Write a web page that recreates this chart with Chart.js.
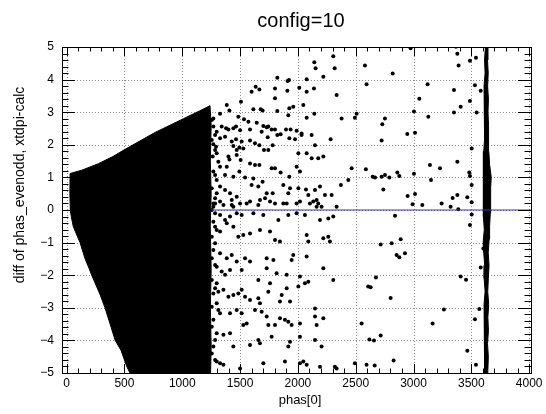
<!DOCTYPE html>
<html>
<head>
<meta charset="utf-8">
<script src="https://cdn.jsdelivr.net/npm/chart.js@4.4.1/dist/chart.umd.min.js"></script>
<style>
  html, body { margin: 0; padding: 0; background: #fff; }
  canvas { display: block; }
</style>
</head>
<body>
<canvas id="plot" width="546" height="414"></canvas>
<script>
// axis ticks
const xTicks = [0, 500, 1000, 1500, 2000, 2500, 3000, 3500, 4000];
const yTicks = [-5, -4, -3, -2, -1, 0, 1, 2, 3, 4, 5];

// outline of the solid black blob (x, y)
const blobOutline = [
  [30, 1.12], [130, 1.22], [274, 1.42], [400, 1.64], [505, 1.86], [765, 2.38], [1010, 2.8],
  [1150, 3.04], [1240, 3.2], [1250, 2.6], [1243, 1.5], [1250, 0.5], [1242, -0.5], [1250, -1.8],
  [1243, -3], [1250, -4.2], [1245, -5], [548, -5], [520, -4.8], [470, -4.3], [420, -4],
  [385, -3.6], [332, -3], [290, -2.6], [217, -2], [195, -1.8], [160, -1.5], [116, -1],
  [80, -0.7], [57, -0.5], [40, -0.2], [32, 0], [28, 0.5], [30, 1.12]
];

// outline of the vertical band near 3630
const bandOutline = [
  [3622, 5], [3614, 4.6], [3619, 4.2], [3610, 3.8], [3616, 3.4], [3611, 3.0], [3618, 2.6],
  [3613, 2.2], [3608, 1.8], [3604, 1.4], [3602, 1.0], [3606, 0.6], [3602, 0.2], [3608, -0.2],
  [3612, -0.6], [3602, -1.0], [3607, -1.3], [3616, -1.7], [3611, -2.1], [3619, -2.5],
  [3610, -2.9], [3616, -3.3], [3611, -3.7], [3618, -4.1], [3613, -4.5], [3618, -5],
  [3642, -5], [3647, -4.5], [3640, -4.1], [3648, -3.7], [3643, -3.3], [3650, -2.9],
  [3642, -2.5], [3647, -2.1], [3653, -1.7], [3646, -1.3], [3654, -0.9], [3658, -0.5],
  [3664, -0.1], [3668, 0.3], [3666, 0.7], [3672, 1.0], [3658, 1.4], [3651, 1.8], [3646, 2.2],
  [3652, 2.6], [3644, 3.0], [3648, 3.4], [3641, 3.8], [3646, 4.2], [3640, 4.6], [3644, 5]
];

// scattered entries hugging the right edge of the blob
const ptsEdge = [
  [1255, 2.76], [1269, 2.56], [1298, 2.40], [1255, 2.15], [1284, 1.84], [1263, 1.64], [1312, 1.48],
  [1269, 1.18], [1298, 0.92], [1255, 0.67], [1284, 0.20], [1269, 0.10], [1255, 0.0], [1269, -0.36],
  [1298, -0.61], [1255, -0.82], [1269, -1.23], [1255, -1.48], [1284, -1.69], [1255, -2.15],
  [1298, -2.25], [1269, -2.56], [1255, -2.97], [1312, -3.07], [1269, -3.37], [1255, -3.58],
  [1298, -3.78], [1269, -4.19], [1255, -4.40], [1284, -4.60]
];

// scattered entries, upper half (x 1250-2600)
const ptsUpper = [
  [2306, 4.72], [2142, 4.53], [2153, 4.35], [2318, 4.35], [2580, 4.43], [1822, 4.06], [1911, 3.96],
  [1923, 3.99], [2076, 4.01], [2220, 4.09], [1600, 3.63], [1635, 3.78], [1667, 3.70], [1802, 3.73],
  [1909, 3.66], [2012, 3.75], [2076, 3.63], [2139, 3.73], [2335, 3.53], [2594, 3.86], [1508, 3.32],
  [1802, 3.43], [1385, 3.22], [1408, 3.05], [1615, 3.09], [1678, 3.09], [1695, 3.05], [1822, 3.04],
  [1926, 3.12], [1960, 3.17], [2047, 3.22], [1917, 2.91], [2076, 2.83], [2142, 2.95], [2378, 2.81],
  [2493, 2.83], [2508, 2.95], [1485, 2.86], [1534, 2.78], [1572, 2.71], [1327, 2.95], [1269, 2.81],
  [1644, 2.68], [1701, 2.58], [1730, 2.54], [1744, 2.56], [1773, 2.47], [1802, 2.47], [1897, 2.47],
  [1937, 2.47], [1989, 2.43], [2032, 2.35], [2119, 2.30], [1341, 2.56], [1379, 2.51], [1399, 2.47],
  [1442, 2.51], [1465, 2.56], [1500, 2.45], [1586, 2.47], [1687, 2.40], [1739, 2.23], [1822, 2.30],
  [1851, 2.32], [1926, 2.20], [1975, 2.17], [2032, 2.30], [1284, 2.30], [1327, 2.20], [1370, 2.25],
  [1428, 2.10], [1465, 2.17], [1514, 2.10], [1586, 2.13], [1629, 2.05], [1667, 1.99], [1744, 1.84],
  [1782, 1.99], [1442, 1.96], [1471, 1.84], [1494, 1.92], [1528, 1.89], [1292, 1.94], [1269, 2.02],
  [1298, 1.74], [1399, 1.64], [1408, 1.55], [1471, 1.69], [1505, 1.53], [1586, 1.43], [1629, 1.38],
  [1667, 1.38], [1707, 1.84], [1773, 1.28], [1802, 1.28], [1851, 1.15], [1926, 1.02], [1989, 1.33],
  [2004, 1.74], [2018, 1.18], [2076, 1.74], [2119, 1.59], [2148, 1.99], [2176, 1.59], [2220, 1.64],
  [2283, 2.17], [2465, 1.28], [2588, 1.25], [1327, 1.33], [1385, 1.33], [1284, 1.07], [1370, 1.07],
  [1442, 1.02], [1494, 1.18], [1543, 1.00], [1615, 0.97], [1600, 0.77], [1658, 0.72], [1695, 0.87],
  [1730, 0.51], [1782, 0.51], [1716, 0.36], [1874, 0.77], [1917, 0.51], [1932, 0.67], [2004, 0.67],
  [2070, 0.63], [2090, 0.46], [2148, 0.61], [2191, 0.72], [2234, 0.46], [2292, 0.46], [2372, 0.77],
  [2436, 0.92], [2162, 0.31], [2176, 0.20], [2205, 0.10], [2104, 0.20], [1989, 0.20], [1327, 0.72],
  [1370, 0.61], [1413, 0.51], [1428, 0.31], [1471, 0.41], [1298, 0.51], [1284, 0.36], [1557, 0.20],
  [1672, 0.31], [1802, 0.20], [1874, 0.20], [2335, 0.10], [1356, 0.15], [1442, 0.10]
];

// scattered entries, lower half (x 1250-2600)
const ptsLower = [
  [1269, 0.20], [1327, 0.26], [1428, 0.15], [1500, 0.20], [1586, 0.26], [1658, 0.15], [1759, 0.26],
  [1903, 0.20], [2018, 0.26], [2133, 0.26], [2162, 0.10], [1284, -0.10], [1327, -0.15], [1370, -0.31],
  [1413, -0.20], [1471, -0.10], [1514, -0.15], [1615, -0.10], [1701, -0.15], [1831, -0.31],
  [1917, -0.15], [1989, -0.10], [2061, -0.15], [2191, -0.31], [2263, -0.26], [2306, -0.20],
  [1284, -0.51], [1327, -0.66], [1385, -0.41], [1442, -0.51], [1485, -0.82], [1528, -0.77],
  [1586, -0.72], [1672, -0.61], [1759, -0.66], [1802, -0.92], [1845, -0.97], [2076, -0.77],
  [2090, -0.97], [2220, -0.87], [2263, -0.82], [2277, -0.97], [1284, -1.02], [1327, -1.33],
  [1385, -1.48], [1428, -1.38], [1471, -1.58], [1543, -1.48], [1586, -1.58], [1730, -1.48],
  [1788, -1.53], [1946, -1.53], [1960, -1.38], [2076, -1.43], [1298, -1.74], [1341, -1.89],
  [1370, -1.99], [1413, -1.84], [1514, -1.84], [1658, -2.15], [1730, -1.79], [1816, -1.94],
  [1903, -1.99], [2018, -2.04], [2061, -2.25], [2090, -2.20], [2220, -1.79], [2306, -2.15],
  [2608, -2.35], [1284, -2.40], [1312, -2.51], [1356, -2.45], [1399, -2.66], [1442, -2.61],
  [1485, -2.56], [1514, -2.45], [1543, -2.66], [1586, -2.76], [1658, -2.71], [1744, -2.51],
  [1759, -2.25], [1860, -2.61], [1903, -2.40], [2004, -2.35], [1932, -2.81], [1845, -2.81],
  [1672, -2.86], [1298, -2.86], [1327, -3.17], [1413, -3.17], [1471, -3.07], [1514, -3.17],
  [1528, -3.53], [1557, -3.48], [1629, -3.07], [1687, -3.12], [1730, -3.27], [1744, -3.53],
  [1802, -3.53], [1845, -3.32], [1888, -3.37], [1917, -3.43], [1946, -3.53], [2018, -3.48],
  [2148, -3.02], [2148, -3.27], [2220, -3.32], [2162, -3.53], [2551, -3.48], [1284, -3.99],
  [1356, -3.83], [1413, -3.78], [1442, -4.19], [1586, -4.14], [1658, -3.99], [1672, -4.09],
  [1773, -3.89], [1917, -4.19], [1932, -4.04], [2018, -3.89], [2148, -3.99], [2205, -4.19],
  [1298, -4.65], [1327, -4.70], [1356, -4.75], [1500, -4.86], [1701, -4.70], [1888, -4.65],
  [2018, -4.70], [2047, -4.65], [2076, -4.75], [2191, -4.81], [2320, -4.81], [2335, -4.86],
  [2493, -4.70], [2594, -4.75]
];

// scattered entries on the right (x 2600-3600)
const ptsRight = [
  [2820, 4.19], [2975, 4.96], [3367, 5.01], [3379, 4.79], [3390, 4.43], [3488, 4.58], [3540, 4.67],
  [3531, 3.83], [3581, 3.66], [3350, 3.68], [3122, 3.86], [3050, 3.41], [3488, 3.34], [3408, 3.17],
  [3546, 2.99], [3004, 3.02], [3350, 2.99], [2753, 2.81], [2730, 2.63], [3128, 2.86], [2946, 2.33],
  [3013, 2.37], [2724, 2.13], [3503, 1.89], [3379, 1.48], [3142, 1.38], [3229, 1.28], [2647, 1.02],
  [2667, 1.00], [2724, 1.02], [2753, 1.07], [2791, 1.00], [2860, 1.15], [2877, 1.04], [3151, 0.92],
  [3004, 1.11], [3488, 1.04], [3482, 1.15], [3503, 0.77], [2739, 0.63], [2949, 0.43], [3013, 0.49],
  [3379, 0.46], [3338, 0.37], [3465, 0.39], [3503, 0.24], [3243, 0.20], [3076, 0.15], [2992, 0.18],
  [3321, 0.10], [3387, 0.02], [2840, -0.18], [3503, -0.14], [3488, -0.46], [2716, -1.06],
  [2811, -1.02], [2889, -0.90], [2854, -1.38], [2877, -1.45], [2926, -1.33], [3604, -1.18],
  [3581, -1.76], [2675, -2.07], [2629, -2.37], [2802, -2.70], [3408, -2.04], [3454, -2.14],
  [3263, -3.05], [3569, -3.04], [3531, -3.35], [3165, -3.48], [2618, -3.97], [2658, -4.00],
  [2716, -3.85], [3465, -4.32], [2664, -4.77], [2828, -4.62], [3540, -4.75]
];

// blue horizontal line
const lineX = [1250, 4016];
const lineY = [0, 0];

const toXY = arr => arr.map(p => ({ x: p[0], y: p[1] }));
const FONT = "'Liberation Sans', Arial, Helvetica, sans-serif";

const rootFrame = {
  id: "rootFrame",
  beforeDatasetsDraw(chart) {
    const { ctx, chartArea: a, scales } = chart;
    ctx.save();
    ctx.strokeStyle = "#8a8a8a";
    ctx.lineWidth = 1;
    ctx.setLineDash([1, 2]);
    xTicks.forEach(v => {
      const px = Math.round(scales.x.getPixelForValue(v)) + 0.5;
      ctx.beginPath(); ctx.moveTo(px, a.top); ctx.lineTo(px, a.bottom); ctx.stroke();
    });
    yTicks.forEach(v => {
      const py = Math.round(scales.y.getPixelForValue(v)) + 0.5;
      ctx.beginPath(); ctx.moveTo(a.left, py); ctx.lineTo(a.right, py); ctx.stroke();
    });
    ctx.restore();
  },
  afterDatasetsDraw(chart) {
    const { ctx, chartArea: a, scales } = chart;
    ctx.save();
    ctx.strokeStyle = "#000";
    ctx.lineWidth = 1;
    ctx.setLineDash([]);
    ctx.strokeRect(Math.round(a.left) + 0.5, Math.round(a.top) + 0.5,
      Math.round(a.right - a.left), Math.round(a.bottom - a.top));
    ctx.beginPath();
    for (let v = 0; v <= 4000; v += 100) {
      const px = Math.round(scales.x.getPixelForValue(v)) + 0.5;
      const len = v % 500 === 0 ? 9 : 4.5;
      ctx.moveTo(px, a.bottom); ctx.lineTo(px, a.bottom - len);
      ctx.moveTo(px, a.top); ctx.lineTo(px, a.top + len);
    }
    for (let i = -25; i <= 25; i++) {
      const v = i / 5;
      const py = Math.round(scales.y.getPixelForValue(v)) + 0.5;
      const len = i % 5 === 0 ? 13 : 6.5;
      ctx.moveTo(a.left, py); ctx.lineTo(a.left + len, py);
      ctx.moveTo(a.right, py); ctx.lineTo(a.right - len, py);
    }
    ctx.stroke();
    ctx.restore();
  },
  afterDraw(chart) {
    const { ctx } = chart;
    ctx.save();
    ctx.fillStyle = "#000";
    ctx.textAlign = "center";
    ctx.textBaseline = "alphabetic";
    ctx.font = "20px " + FONT;
    ctx.fillText("config=10", 301, 27);
    ctx.font = "13px " + FONT;
    ctx.fillText("phas[0]", 300, 404);
    ctx.translate(24, 185);
    ctx.rotate(-Math.PI / 2);
    ctx.font = "14px " + FONT;
    ctx.fillText("diff of phas_evenodd, xtdpi-calc", 0, 0);
    ctx.restore();
  }
};

const plot = new Chart(document.getElementById("plot"), {
  type: "scatter",
  data: {
    datasets: [
      {
        type: "line",
        data: toXY(blobOutline),
        borderColor: "#000",
        borderWidth: 1,
        backgroundColor: "#000",
        fill: "shape",
        pointRadius: 0,
        tension: 0,
        clip: 0,
        order: 4
      },
      {
        type: "line",
        data: toXY(bandOutline),
        borderColor: "#000",
        borderWidth: 1,
        backgroundColor: "#000",
        fill: "shape",
        pointRadius: 0,
        tension: 0,
        clip: 0,
        order: 3
      },
      {
        data: toXY(ptsEdge.concat(ptsUpper, ptsLower, ptsRight)),
        backgroundColor: "#000",
        borderWidth: 0,
        pointRadius: 2,
        clip: 0,
        order: 2
      },
      {
        type: "line",
        data: lineX.map((x, i) => ({ x: x, y: lineY[i] })),
        borderColor: "#3434c8",
        borderWidth: 1,
        pointRadius: 0,
        fill: false,
        clip: 0,
        order: 1
      }
    ]
  },
  options: {
    responsive: false,
    animation: false,
    devicePixelRatio: 1,
    events: [],
    layout: { padding: { top: 47, right: 15, left: 0, bottom: 0 } },
    plugins: {
      legend: { display: false },
      title: { display: false },
      tooltip: { enabled: false }
    },
    scales: {
      x: {
        type: "linear",
        min: -40,
        max: 4016,
        grid: { display: false, drawTicks: false },
        border: { display: false },
        ticks: {
          color: "#000",
          font: { family: FONT, size: 12 },
          padding: 3,
          maxRotation: 0,
          callback: v => String(v)
        },
        afterBuildTicks: s => { s.ticks = xTicks.map(v => ({ value: v })); },
        afterFit: s => { s.height = 41; }
      },
      y: {
        type: "linear",
        min: -5,
        max: 5,
        grid: { display: false, drawTicks: false },
        border: { display: false },
        ticks: {
          color: "#000",
          font: { family: FONT, size: 12 },
          padding: 8,
          callback: v => String(v).replace("-", "\u2212")
        },
        afterBuildTicks: s => { s.ticks = yTicks.map(v => ({ value: v })); },
        afterFit: s => { s.width = 62; }
      }
    }
  },
  plugins: [rootFrame]
});
</script>
</body>
</html>
